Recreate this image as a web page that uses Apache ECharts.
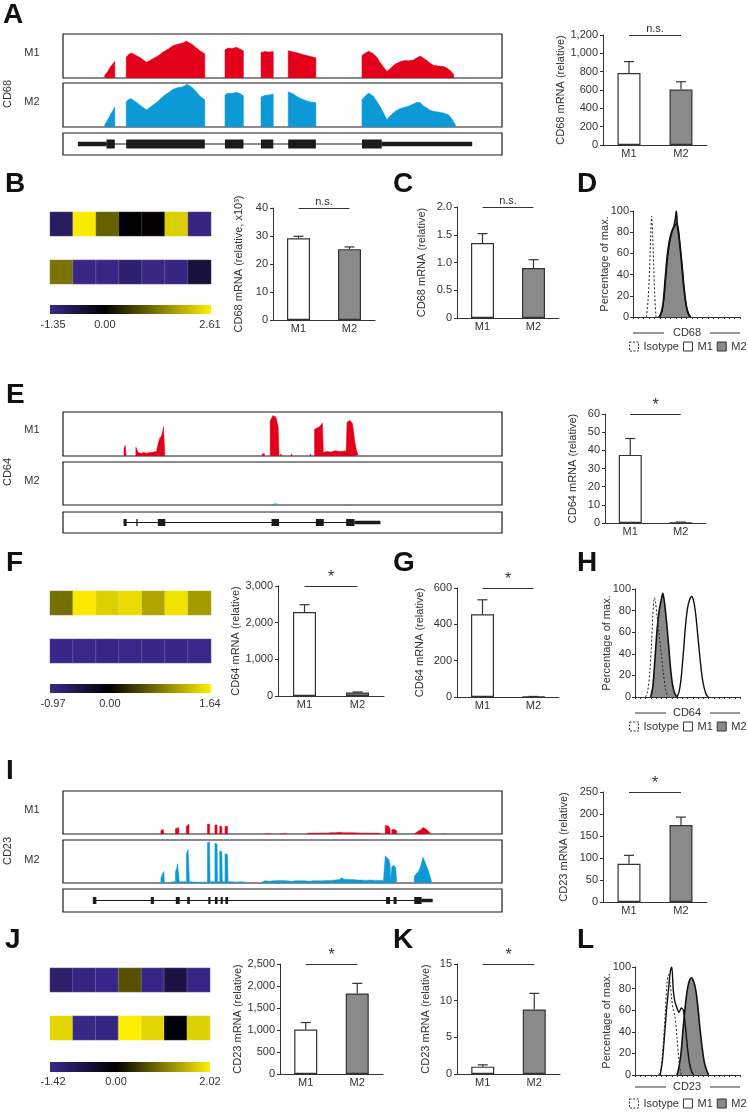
<!DOCTYPE html>
<html><head><meta charset="utf-8">
<script src="https://cdn.jsdelivr.net/npm/echarts@6/dist/echarts.min.js"></script>
<style>html,body{margin:0;padding:0;background:#fff}#c{width:748px;height:1113px}</style>
</head><body><div id="c"></div>
<script>
// ================= DATA =================
const barCats = ['M1', 'M2'];

// --- CD68 (panel A tracks): genomic position (0-100 of window), coverage (% of track height)
const cd68_M1 = [
  [[9.5,0],[9.5,6],[10.2,15],[10.8,25],[11.4,33],[11.8,38],[11.8,0]],
  [[14.4,0],[14.4,47],[15.0,54],[15.6,57],[16.7,51],[17.8,45],[19.0,36],[19.7,39],[20.5,44],[21.6,50],[22.8,59],[24.0,66],[25.1,74],[26.0,76],[27.0,79],[27.5,80],[28.0,84],[28.6,81],[29.3,77],[30.2,70],[31.2,62],[32.3,55],[32.3,0]],
  [[36.9,0],[36.9,64],[37.6,68],[38.5,67],[39.5,70],[40.3,66],[41.1,62],[41.1,0]],
  [[45.1,0],[45.1,58],[46.0,60],[47.0,59],[47.9,60],[47.9,0]],
  [[51.3,0],[51.3,62],[52.5,59],[53.5,57],[54.8,53],[56.0,50],[57.6,46],[57.6,0]],
  [[68.1,0],[68.1,51],[68.8,56],[69.6,61],[70.7,55],[71.5,47],[72.2,36],[73.0,25],[73.8,15],[74.6,22],[75.7,32],[76.8,37],[77.9,40],[78.8,39],[79.8,41],[80.6,46],[81.4,50],[82.1,45],[82.9,40],[83.6,34],[84.4,29],[85.5,27],[86.7,26],[87.5,22],[88.2,17],[89.0,8],[89.0,0]]
];
const cd68_M2 = [
  [[9.5,0],[9.5,5],[10.3,18],[11.0,32],[11.8,45],[11.8,0]],
  [[14.4,0],[14.4,58],[15.0,63],[15.6,64],[16.7,56],[17.8,48],[19.0,39],[19.7,44],[20.5,50],[21.6,58],[22.8,70],[24.0,78],[25.1,86],[26.0,89],[27.0,91],[27.7,93],[28.2,97],[28.8,94],[29.3,91],[30.2,82],[31.2,70],[32.3,62],[32.3,0]],
  [[36.9,0],[36.9,73],[37.6,77],[38.5,76],[39.5,79],[40.3,76],[41.1,71],[41.1,0]],
  [[45.1,0],[45.1,68],[46.0,72],[47.0,73],[47.9,75],[47.9,0]],
  [[51.3,0],[51.3,80],[52.5,75],[53.5,68],[54.8,62],[56.0,58],[57.6,55],[57.6,0]],
  [[68.1,0],[68.1,62],[68.8,70],[69.6,77],[70.7,70],[71.5,58],[72.2,47],[73.0,32],[73.8,17],[74.6,26],[75.7,36],[76.8,42],[77.9,45],[78.8,48],[79.8,52],[80.6,56],[81.4,55],[82.1,48],[82.9,43],[83.6,38],[84.4,36],[85.5,34],[86.7,32],[87.8,28],[88.6,18],[89.4,5],[89.4,0]]
];
const cd68_gene = [[3.4,93.2,'intron'],[3.4,9.9,'utr'],[9.9,11.8,'exon'],[14.4,32.3,'exon'],[36.9,41.1,'exon'],[45.1,47.9,'exon'],[51.3,57.6,'exon'],[68.1,72.6,'exon'],[72.6,93.2,'utr']];

// --- CD64 (panel E tracks)
const cd64_M1 = [
  [[13.9,0],[13.9,18],[14.2,24],[14.4,24],[14.4,0]],
  [[16.6,0],[16.6,20],[16.9,20],[17.1,8],[17.8,6],[18.4,8],[19.0,6],[19.8,8],[20.6,9],[21.3,10],[21.6,25],[22.0,40],[22.4,45],[22.7,55],[22.9,67],[23.2,67],[23.2,0]],
  [[45.4,0],[45.4,5],[45.9,5],[45.9,0]],
  [[47.2,0],[47.2,80],[47.5,86],[47.8,92],[48.2,94],[48.5,88],[48.8,92],[49.0,67],[49.2,5],[49.2,0]],
  [[49.6,0],[49.6,5],[49.9,5],[49.9,0]],
  [[52.0,0],[52.0,5],[52.3,5],[52.3,0]],
  [[56.3,0],[56.3,5],[56.6,5],[56.6,0]],
  [[57.3,0],[57.3,61],[57.8,63],[58.5,67],[58.9,70],[59.1,75],[59.3,8],[60.0,10],[61.0,9],[62.0,12],[63.0,10],[64.0,11],[64.5,12],[64.7,76],[65.0,79],[65.3,81],[65.7,79],[65.9,75],[66.2,55],[66.4,37],[66.8,15],[67.2,2],[67.2,0]]
];
const cd64_M2 = [
  [[47.6,0],[48.0,3],[48.6,4],[49.0,0]],
  [[58.3,0],[58.6,2],[58.9,0]],
  [[64.6,0],[65.0,3],[65.5,0]]
];
const cd64_gene = [[13.8,66.4,'intron'],[13.8,14.5,'exon'],[16.7,17.0,'exon'],[21.6,23.3,'exon'],[47.5,49.2,'exon'],[57.6,59.4,'exon'],[64.5,66.4,'exon'],[66.4,72.3,'utr']];

// --- CD23 (panel I tracks)
const cd23_M1 = [
  [[22.3,0],[22.3,8],[22.8,11],[23.0,11],[23.0,0]],
  [[25.6,0],[25.6,12],[26.0,14],[26.4,15],[26.4,0]],
  [[28.1,0],[28.1,18],[28.4,22],[28.7,23],[28.7,0]],
  [[32.9,0],[32.9,23],[33.4,23],[33.4,0]],
  [[34.6,0],[34.6,21],[35.1,21],[35.1,0]],
  [[35.7,0],[35.7,18],[36.2,18],[36.2,0]],
  [[36.9,0],[36.9,18],[37.5,18],[37.5,0]],
  [[46.0,0],[46.2,2],[47.0,2],[47.2,0]],
  [[49.5,0],[49.8,2],[50.8,2],[51.0,0]],
  [[55.5,0],[56,2],[60,2],[61,3],[62,3],[63,4],[64,3],[66,3],[68,2],[70,2],[72,2],[72.5,0]],
  [[73.4,0],[73.4,20],[73.8,21],[74.2,18],[74.5,12],[74.5,0]],
  [[74.9,0],[74.9,10],[75.4,11],[76.0,8],[76.0,0]],
  [[80.0,0],[80.0,4],[80.8,6],[81.5,10],[82.0,15],[82.5,13],[83.0,9],[83.7,2],[83.7,0]],
  [[86.5,0],[86.8,2],[87.2,0]]
];
const cd23_M2 = [
  [[22.3,0],[22.3,12],[22.7,22],[23.0,27],[23.1,0]],
  [[24.3,0],[24.3,3],[25.1,3],[25.6,3],[25.6,25],[25.9,35],[26.1,45],[26.4,46],[26.5,3],[27.5,3],[28.1,3],[28.1,68],[28.5,78],[28.7,78],[28.8,3],[30,2],[31,2],[32,2],[32.9,2],[32.9,94],[33.4,95],[33.5,3],[34.6,3],[34.6,93],[35.1,90],[35.2,3],[35.7,3],[35.7,75],[36.2,72],[36.3,3],[36.9,3],[36.9,68],[37.5,66],[37.6,3],[38.5,3],[39.5,2],[40.5,3],[41.8,2],[41.8,0]],
  [[44.9,0],[44.9,4],[46,5],[47,4],[48,5],[49.5,6],[51,5],[52,4],[53,5],[55,5],[56,4],[57,5],[59,5],[60,6],[61,6],[62,7],[63,8],[63.5,12],[64,9],[65,8],[66,8],[67,7],[68,7],[69,6],[70,7],[71,6],[72,6],[73,6],[73.4,6],[73.4,63],[73.8,60],[74.2,55],[74.5,45],[74.6,6],[74.9,6],[74.9,38],[75.4,41],[75.8,35],[76.0,4],[76.0,0]],
  [[80.0,0],[80.0,15],[80.5,22],[81.0,27],[81.5,40],[82.0,60],[82.5,48],[83.0,35],[83.5,20],[84.0,2],[84.0,0]]
];
const cd23_gene = [[6.8,84.2,'intron'],[6.8,7.6,'exon'],[20.0,20.7,'exon'],[25.7,26.6,'exon'],[28.3,28.9,'exon'],[33.1,33.6,'exon'],[34.6,35.2,'exon'],[35.9,36.4,'exon'],[37.0,37.6,'exon'],[73.6,74.5,'exon'],[75.3,76.0,'exon'],[80.0,81.7,'exon'],[81.7,84.2,'utr']];

// --- bar charts: mean and SEM for M1, M2
const A_mean = [785, 605],   A_sem = [125, 85];
const B_mean = [29.2, 25.3], B_sem = [0.7, 0.8];
const C_mean = [1.35, 0.90], C_sem = [0.17, 0.15];
const E_mean = [37.5, 0.3],  E_sem = [9.0, 0.2];
const F_mean = [2290, 95],   F_sem = [200, 15];
const G_mean = [455, 2],     G_sem = [80, 1];
const I_mean = [87, 175],    I_sem = [19, 18];
const J_mean = [1010, 1830], J_sem = [160, 230];
const K_mean = [1.0, 8.8],   K_sem = [0.25, 2.2];

// --- heatmaps (7 samples; row M1, row M2) and scale limits
const B_heatM1 = [-0.95, 2.55, 1.05, 0.0, 0.02, 2.25, -1.25];
const B_heatM2 = [1.25, -1.3, -1.28, -1.05, -1.27, -1.25, -0.55];
const B_range = [-1.35, 2.61];
const F_heatM1 = [0.75, 1.6, 1.42, 1.5, 1.13, 1.55, 1.06];
const F_heatM2 = [-0.93, -0.95, -0.92, -0.96, -0.94, -0.93, -0.95];
const F_range = [-0.97, 1.64];
const J_heatM1 = [-1.1, -1.3, -1.38, 0.68, -1.35, -0.66, -1.35];
const J_heatM2 = [1.8, -1.36, -1.33, 2.0, 1.8, -0.05, 1.75];
const J_range = [-1.42, 2.02];

// --- flow cytometry histograms: [fluorescence (0-100 of axis), % of max]
const D_iso = [[12.5,0],[14,15],[15.5,45],[16.5,75],[17.5,95],[18.3,80],[19.3,50],[20.3,20],[21.5,0]];
const D_m1  = [[25,0],[27,5],[29,18],[31,42],[33,62],[35,74],[37,82],[39,86],[40.8,88],[42.5,82],[44,68],[46,48],[48,26],[50,10],[52,3],[54,0]];
const D_m2  = [[24,0],[26,3],[28,12],[30,35],[32,58],[34,72],[36,80],[38,85],[39.5,92],[40.5,100],[41.5,86],[43,75],[45,55],[47,32],[49,15],[51,5],[53,0]];
const H_iso = [[10,0],[12,5],[14,22],[15.5,45],[17,75],[18.5,92],[19.5,88],[21,75],[23,58],[25,40],[27,22],[29,8],[31,0]];
const H_m1  = [[40,0],[42,5],[44,18],[46,40],[48,65],[50,82],[52,90],[54,93],[56,88],[58,75],[60,55],[62,35],[64,18],[66,8],[68,2],[70,0]];
const H_m2  = [[15,0],[17,10],[19,35],[21,62],[23,80],[25,90],[26.5,96],[28,88],[30,70],[32,48],[34,25],[36,10],[38,3],[40,0]];
const L_iso = [[23,0],[25,8],[27,30],[29,60],[30.5,85],[32,93],[33.5,85],[35,70],[36.5,60],[38,55],[40,35],[42,12],[44,0]];
const L_m1  = [[24,0],[26,12],[28,35],[30,60],[32,80],[33.5,95],[35,100],[36.5,78],[38,68],[40,62],[42,58],[44,62],[46,60],[48,45],[50,25],[52,10],[54,3],[56,0]];
const L_m2  = [[40,0],[42,8],[44,22],[46,45],[48,65],[50,80],[52,88],[54,90],[56,86],[58,78],[60,62],[62,42],[64,25],[66,12],[68,5],[70,0]];

// ================= STYLE / BUILD =================
const FF = '"Liberation Sans", Arial, Helvetica, sans-serif';
const TXT = '#333';
const RED = '#e2001a', BLUE = '#0c9ad6', GRAY = '#8a8a8a';
const P = [58, 40, 140], K0 = [0, 0, 0], Y = [255, 240, 0];
const KIND = {intron: 0, utr: 1, exon: 2};
const comma = v => v.toLocaleString('en-US');
const rgb = c => 'rgb(' + c.join(',') + ')';

const grids = [], xAxes = [], yAxes = [], series = [], visualMaps = [], legends = [], graphics = [];
function newGrid(g) { g.outerBoundsMode = 'none'; grids.push(g); return grids.length - 1; }
function axisPair(gi, x, y) { x.gridIndex = gi; y.gridIndex = gi; xAxes.push(x); yAxes.push(y); return [xAxes.length - 1, yAxes.length - 1]; }
function text(t, x, y, o) {
  o = o || {};
  graphics.push({type: 'text', x, y, rotation: o.rot || 0, silent: true,
    style: {text: t, fill: o.color || TXT, font: (o.weight || 'normal') + ' ' + (o.size || 11) + 'px ' + FF,
      textAlign: o.align || 'center', align: o.align || 'center', textVerticalAlign: 'middle', verticalAlign: 'middle'}});
}
function hline(x1, x2, y) {
  graphics.push({type: 'line', silent: true, shape: {x1, y1: y, x2, y2: y}, style: {stroke: TXT, lineWidth: 1}});
}

function addTrack(top, h, segs, color) {
  const gi = newGrid({left: 63, top, width: 439, height: h, show: true, borderColor: '#1a1a1a', borderWidth: 1.2, backgroundColor: 'rgba(0,0,0,0)'});
  const [xi, yi] = axisPair(gi, {type: 'value', min: 0, max: 100, show: false}, {type: 'value', min: 0, max: 100, show: false});
  segs.forEach(s => series.push({type: 'line', xAxisIndex: xi, yAxisIndex: yi, data: s, symbol: 'none', silent: true,
    lineStyle: {color, width: 0.5}, areaStyle: {color, opacity: 1}}));
}
function addGene(top, h, feats, exH) {
  const gi = newGrid({left: 63, top, width: 439, height: h, show: true, borderColor: '#1a1a1a', borderWidth: 1.2, backgroundColor: 'rgba(0,0,0,0)'});
  const [xi, yi] = axisPair(gi, {type: 'value', min: 0, max: 100, show: false}, {type: 'value', min: -1, max: 1, show: false});
  series.push({type: 'custom', xAxisIndex: xi, yAxisIndex: yi, silent: true,
    data: feats.map(f => [f[0], f[1], KIND[f[2]]]),
    renderItem: (p, api) => {
      const a = api.coord([api.value(0), 0]), b = api.coord([api.value(1), 0]);
      const k = api.value(2);
      const hh = k === 2 ? exH : (k === 1 ? exH * 0.5 : 1.2);
      return {type: 'rect', shape: {x: a[0], y: a[1] - hh / 2, width: Math.max(b[0] - a[0], 1.2), height: hh}, style: {fill: '#1a1a1a'}};
    }});
}
function addBars(o) {
  const gi = newGrid({left: o.left, top: o.top, width: o.width, height: o.bottom - o.top});
  const [xi, yi] = axisPair(gi,
    {type: 'category', data: barCats, axisLine: {lineStyle: {color: TXT, width: 1}}, axisTick: {show: false},
      axisLabel: {color: TXT, fontSize: 11, fontFamily: FF, margin: 3}},
    {type: 'value', min: 0, max: o.max, interval: o.interval, name: o.name, nameLocation: 'middle', nameRotate: 90,
      nameGap: o.nameDist - 6, nameTextStyle: {color: TXT, fontSize: 11, fontFamily: FF},
      axisLine: {show: true, lineStyle: {color: TXT, width: 1}}, axisTick: {show: true, length: 3, lineStyle: {color: TXT}},
      axisLabel: {color: TXT, fontSize: 11, fontFamily: FF, margin: 5, formatter: o.fmt || (v => String(v))}, splitLine: {show: false}});
  series.push({type: 'bar', name: 'bar' + gi, xAxisIndex: xi, yAxisIndex: yi, barWidth: 23, silent: true,
    data: o.mean.map((v, i) => ({value: v, itemStyle: {color: i ? GRAY : '#fff', borderColor: '#333', borderWidth: 1.2}})),
    markLine: {silent: true, symbol: ['none', 'none'], animation: false,
      lineStyle: {color: TXT, width: 1, type: 'solid'},
      label: {show: true, position: 'middle', formatter: o.sig, color: TXT, fontFamily: FF,
        fontSize: o.sig === '*' ? 16 : 11, distance: o.sig === '*' ? 0 : 1},
      data: [[{coord: [0, o.max]}, {coord: [1, o.max]}]]}});
  series.push({type: 'custom', xAxisIndex: xi, yAxisIndex: yi, silent: true, z: 3,
    data: o.mean.map((v, i) => [i, v, o.sem[i]]),
    renderItem: (p, api) => {
      const x = api.value(0), v = api.value(1), s = api.value(2);
      const a = api.coord([x, v]), b = api.coord([x, v + s]);
      const st = {stroke: '#333', lineWidth: 1.2};
      return {type: 'group', children: [
        {type: 'line', shape: {x1: a[0], y1: a[1], x2: b[0], y2: b[1]}, style: st},
        {type: 'line', shape: {x1: b[0] - 5, y1: b[1], x2: b[0] + 5, y2: b[1]}, style: st}]};
    }});
}
function hmColors(min, max) {
  const out = [];
  for (let i = 0; i <= 80; i++) {
    const v = min + (max - min) * i / 80;
    let c;
    if (v < 0) { const t = v / min; c = P.map((p, j) => Math.round(K0[j] + (p - K0[j]) * t)); }
    else { const t = v / max; c = Y.map(p => Math.round(p * t)); }
    out.push(rgb(c));
  }
  return out;
}
function addHeat(o) {
  const gi = newGrid({left: o.left, top: o.top, width: o.width, height: o.height});
  const [xi, yi] = axisPair(gi,
    {type: 'category', data: o.m1.map((_, i) => 's' + (i + 1)), show: false},
    {type: 'category', data: ['M2', 'gap', 'M1'], show: false});
  const data = [];
  o.m1.forEach((v, i) => data.push([i, 2, v]));
  o.m2.forEach((v, i) => data.push([i, 0, v]));
  series.push({type: 'heatmap', xAxisIndex: xi, yAxisIndex: yi, data, silent: true,
    itemStyle: {borderColor: 'rgba(255,255,255,0.3)', borderWidth: 0.6}});
  visualMaps.push({type: 'continuous', show: false, seriesIndex: series.length - 1, dimension: 2,
    min: o.range[0], max: o.range[1], inRange: {color: hmColors(o.range[0], o.range[1])}});
  const z = -o.range[0] / (o.range[1] - o.range[0]);
  graphics.push({type: 'rect', silent: true, shape: {x: o.left, y: o.cbTop, width: o.width, height: o.cbH},
    style: {fill: new echarts.graphic.LinearGradient(0, 0, 1, 0,
      [{offset: 0, color: rgb(P)}, {offset: z, color: '#000'}, {offset: 1, color: rgb(Y)}])}});
  text(o.range[0].toFixed(2), 53, o.labelY, {size: 11});
  text('0.00', o.left + z * o.width, o.labelY, {size: 11});
  text(o.range[1].toFixed(2), 210, o.labelY, {size: 11});
}
function addHist(o) {
  const gi = newGrid({left: o.left, top: o.top, width: o.width, height: o.height});
  const [xi, yi] = axisPair(gi,
    {type: 'value', min: 0, max: 100, interval: 5, axisLine: {lineStyle: {color: TXT, width: 1}},
      axisTick: {show: true, length: 2, lineStyle: {color: TXT}}, axisLabel: {show: false}, splitLine: {show: false}},
    {type: 'value', min: 0, max: 100, interval: 20, name: 'Percentage of max.', nameLocation: 'middle', nameRotate: 90,
      nameMoveOverlap: false, nameGap: o.nameDist - 6, nameTextStyle: {color: TXT, fontSize: 11, fontFamily: FF},
      axisLine: {show: true, lineStyle: {color: TXT, width: 1}}, axisTick: {show: true, length: 3, lineStyle: {color: TXT}},
      axisLabel: {color: TXT, fontSize: 11, fontFamily: FF, margin: 4}, splitLine: {show: false}});
  series.push({type: 'line', name: 'M2', xAxisIndex: xi, yAxisIndex: yi, data: o.m2, symbol: 'none', smooth: 0.3, silent: true,
    lineStyle: {color: '#111', width: 1.6}, areaStyle: {color: GRAY, opacity: 1}});
  series.push({type: 'line', name: 'M1', xAxisIndex: xi, yAxisIndex: yi, data: o.m1, symbol: 'none', smooth: 0.3, silent: true,
    lineStyle: {color: '#111', width: 1.4}});
  series.push({type: 'line', name: 'Isotype', xAxisIndex: xi, yAxisIndex: yi, data: o.iso, symbol: 'none', smooth: 0.3, silent: true,
    lineStyle: {color: '#222', width: 1, type: [2, 2]}});
  hline(o.left, o.left + 31, o.markY);
  hline(710, 740, o.markY);
  text(o.marker, 687, o.markY, {size: 11});
  legends.push({left: 629, top: o.legendTop, width: 160, orient: 'horizontal', itemWidth: 9, itemHeight: 9, itemGap: 4, padding: 0, selectedMode: false,
    textStyle: {color: TXT, fontSize: 11, fontFamily: FF},
    data: [
      {name: 'Isotype', icon: 'rect', itemStyle: {color: '#fff', borderColor: '#333', borderWidth: 1, borderType: [2, 1.5]}},
      {name: 'M1', icon: 'rect', itemStyle: {color: '#fff', borderColor: '#333', borderWidth: 1}},
      {name: 'M2', icon: 'rect', itemStyle: {color: GRAY, borderColor: '#333', borderWidth: 1}}]});
}

// ---- Panel A ----
addTrack(34, 44, cd68_M1, RED);
addTrack(83, 44, cd68_M2, BLUE);
addGene(133, 22, cd68_gene, 9);
text('M1', 32, 53); text('M2', 32, 102); text('CD68', 8, 94, {rot: Math.PI / 2});
addBars({left: 603, top: 35, bottom: 145, width: 104, max: 1200, interval: 200, mean: A_mean, sem: A_sem, sig: 'n.s.',
  name: 'CD68 mRNA (relative)', nameDist: 40, fmt: comma});
// ---- Panel B ----
addHeat({left: 50, top: 212, width: 161, height: 72, m1: B_heatM1, m2: B_heatM2, range: B_range, cbTop: 305, cbH: 9, labelY: 325});
addBars({left: 273, top: 208, bottom: 320, width: 102, max: 40, interval: 10, mean: B_mean, sem: B_sem, sig: 'n.s.',
  name: 'CD68 mRNA (relative, x10\u00B3)', nameDist: 35});
// ---- Panel C ----
addBars({left: 457, top: 207, bottom: 318, width: 102, max: 2, interval: 0.5, mean: C_mean, sem: C_sem, sig: 'n.s.',
  name: 'CD68 mRNA (relative)', nameDist: 36, fmt: v => v === 0 ? '0' : v.toFixed(1)});
// ---- Panel D ----
addHist({left: 633, top: 211, width: 107, height: 106, iso: D_iso, m1: D_m1, m2: D_m2, nameDist: 29, marker: 'CD68', markY: 333, legendTop: 341});
// ---- Panel E ----
addTrack(412, 44, cd64_M1, RED);
addTrack(462, 43, cd64_M2, BLUE);
addGene(512, 21, cd64_gene, 7);
text('M1', 32, 430); text('M2', 32, 481); text('CD64', 8, 472, {rot: Math.PI / 2});
addBars({left: 605, top: 414, bottom: 523, width: 101, max: 60, interval: 10, mean: E_mean, sem: E_sem, sig: '*',
  name: 'CD64 mRNA (relative)', nameDist: 33});
// ---- Panel F ----
addHeat({left: 50, top: 591, width: 161, height: 72, m1: F_heatM1, m2: F_heatM2, range: F_range, cbTop: 684, cbH: 9, labelY: 704});
addBars({left: 278, top: 586, bottom: 696, width: 106, max: 3000, interval: 1000, mean: F_mean, sem: F_sem, sig: '*',
  name: 'CD64 mRNA (relative)', nameDist: 40, fmt: comma});
// ---- Panel G ----
addBars({left: 457, top: 588, bottom: 697, width: 102, max: 600, interval: 200, mean: G_mean, sem: G_sem, sig: '*',
  name: 'CD64 mRNA (relative)', nameDist: 38});
// ---- Panel H ----
addHist({left: 635, top: 589, width: 105, height: 108, iso: H_iso, m1: H_m1, m2: H_m2, nameDist: 29, marker: 'CD64', markY: 713, legendTop: 721});
// ---- Panel I ----
addTrack(791, 43, cd23_M1, RED);
addTrack(840, 43, cd23_M2, BLUE);
addGene(889, 23, cd23_gene, 7);
text('M1', 32, 810); text('M2', 32, 860); text('CD23', 8, 851, {rot: Math.PI / 2});
addBars({left: 603, top: 792, bottom: 902, width: 104, max: 250, interval: 50, mean: I_mean, sem: I_sem, sig: '*',
  name: 'CD23 mRNA (relative)', nameDist: 40});
// ---- Panel J ----
addHeat({left: 50, top: 968, width: 160, height: 72, m1: J_heatM1, m2: J_heatM2, range: J_range, cbTop: 1062, cbH: 10, labelY: 1082});
addBars({left: 280, top: 964, bottom: 1074, width: 103, max: 2500, interval: 500, mean: J_mean, sem: J_sem, sig: '*',
  name: 'CD23 mRNA (relative)', nameDist: 42, fmt: comma});
// ---- Panel K ----
addBars({left: 457, top: 964, bottom: 1074, width: 103, max: 15, interval: 5, mean: K_mean, sem: K_sem, sig: '*',
  name: 'CD23 mRNA (relative)', nameDist: 32});
// ---- Panel L ----
addHist({left: 635, top: 967, width: 105, height: 108, iso: L_iso, m1: L_m1, m2: L_m2, nameDist: 29, marker: 'CD23', markY: 1087, legendTop: 1098});

// ---- panel letters ----
[['A', 3, 15], ['B', 5, 184], ['C', 393, 184], ['D', 577, 184], ['E', 6, 395], ['F', 6, 563], ['G', 393, 563], ['H', 577, 563],
 ['I', 6, 771], ['J', 5, 940], ['K', 393, 940], ['L', 577, 940]].forEach(l => text(l[0], l[1], l[2], {size: 28, weight: 'bold', color: '#111', align: 'left'}));

const chart = echarts.init(document.getElementById('c'), null, {renderer: 'canvas'});
chart.setOption({
  animation: false,
  backgroundColor: '#fff',
  textStyle: {fontFamily: FF},
  grid: grids, xAxis: xAxes, yAxis: yAxes, series, visualMap: visualMaps, legend: legends, graphic: graphics
});
</script></body></html>
